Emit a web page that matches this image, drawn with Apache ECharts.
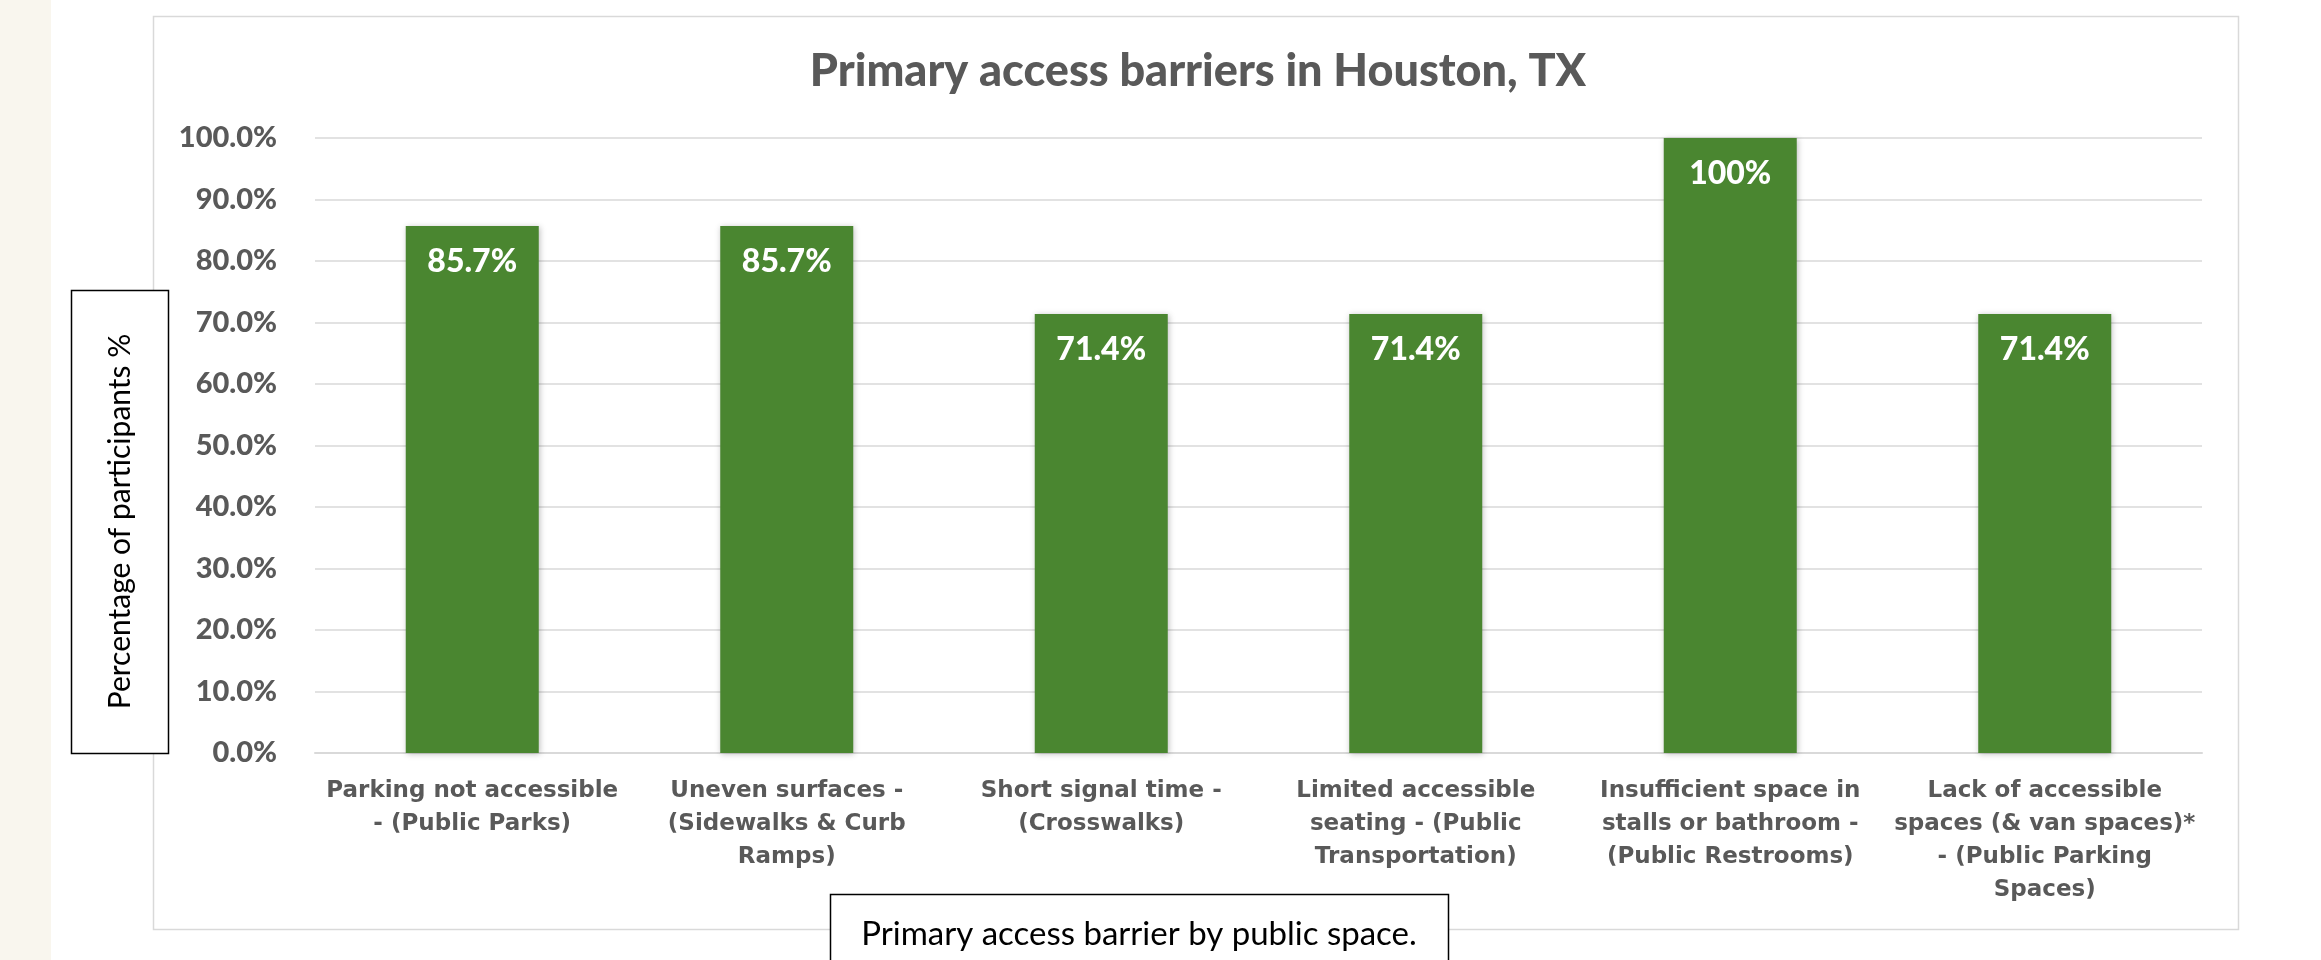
<!DOCTYPE html>
<html>
<head>
<meta charset="utf-8">
<script src="https://cdn.jsdelivr.net/npm/echarts@6/dist/echarts.min.js"></script>
<style>
  html, body { margin: 0; padding: 0; background: #ffffff; }
  #chart { width: 2321px; height: 960px; }
</style>
</head>
<body>
<div id="chart"></div>
<script>
const chartTitle = 'Primary access barriers in Houston, TX';
const categories = [
  'Parking not accessible\n- (Public Parks)',
  'Uneven surfaces -\n(Sidewalks & Curb\nRamps)',
  'Short signal time -\n(Crosswalks)',
  'Limited accessible\nseating - (Public\nTransportation)',
  'Insufficient space in\nstalls or bathroom -\n(Public Restrooms)',
  'Lack of accessible\nspaces (& van spaces)*\n- (Public Parking\nSpaces)'
];
const values = [85.7, 85.7, 71.4, 71.4, 100, 71.4];
const valueLabels = ['85.7%', '85.7%', '71.4%', '71.4%', '100%', '71.4%'];
const yAxisTitle = 'Percentage of participants %';
const xAxisTitle = 'Primary access barrier by public space.';
const yMin = 0, yMax = 100, yStep = 10;

const chart = echarts.init(document.getElementById('chart'), null, { renderer: 'canvas' });

const option = {
  backgroundColor: '#ffffff',
  animation: false,
  title: {
    text: chartTitle,
    left: 1193,
    top: 44,
    textAlign: 'center',
    textStyle: { fontFamily: 'Lato', fontWeight: 900, fontSize: 45, color: '#595959' }
  },
  grid: { left: 315, right: 119, top: 138, bottom: 207, containLabel: false },
  xAxis: {
    type: 'category',
    data: categories,
    axisLine: { show: true, lineStyle: { color: '#d9d9d9', width: 2 } },
    axisTick: { show: false },
    axisLabel: {
      interval: 0,
      margin: 22,
      fontFamily: 'DejaVu Sans',
      fontWeight: 'bold',
      fontSize: 23,
      lineHeight: 33,
      color: '#595959',
      align: 'center'
    }
  },
  yAxis: {
    type: 'value',
    min: yMin,
    max: yMax,
    interval: yStep,
    axisLine: { show: false },
    axisTick: { show: false },
    splitLine: { show: true, lineStyle: { color: '#d9d9d9', width: 1.5 } },
    axisLabel: {
      margin: 38,
      fontFamily: 'Lato',
      fontWeight: 900,
      fontSize: 29,
      color: '#595959',
      formatter: v => v.toFixed(1) + '%'
    }
  },
  series: [{
    type: 'bar',
    data: values,
    barWidth: 133,
    itemStyle: {
      color: '#4a8630',
      shadowBlur: 6,
      shadowColor: 'rgba(0,0,0,0.25)',
      shadowOffsetX: 1,
      shadowOffsetY: 1
    },
    label: {
      show: true,
      position: 'insideTop',
      distance: 20,
      fontFamily: 'Lato',
      fontWeight: 900,
      fontSize: 32,
      color: '#ffffff',
      formatter: p => valueLabels[p.dataIndex]
    }
  }],
  graphic: [
    { type: 'rect', z: -10, shape: { x: 0, y: 0, width: 51, height: 960 }, style: { fill: '#f9f6ee' } },
    { type: 'rect', z: -5, shape: { x: 153.5, y: 16.5, width: 2085, height: 913 }, style: { fill: 'none', stroke: '#d9d9d9', lineWidth: 1.5 } },
    { type: 'rect', z: 10, shape: { x: 71.5, y: 290.5, width: 97, height: 463 }, style: { fill: '#ffffff', stroke: '#000000', lineWidth: 1.5 } },
    { type: 'text', z: 11, x: 120, y: 521.5, rotation: Math.PI / 2,
      style: { text: yAxisTitle, fontFamily: 'Lato', fontSize: 30, fill: '#000000', align: 'center', verticalAlign: 'middle' } },
    { type: 'rect', z: 10, shape: { x: 830.5, y: 894.5, width: 618, height: 90 }, style: { fill: '#ffffff', stroke: '#000000', lineWidth: 1.5 } },
    { type: 'text', z: 11, x: 1139, y: 934,
      style: { text: xAxisTitle, fontFamily: 'Lato', fontSize: 33, fill: '#000000', align: 'center', verticalAlign: 'middle' } }
  ]
};

chart.setOption(option);
</script>
</body>
</html>
